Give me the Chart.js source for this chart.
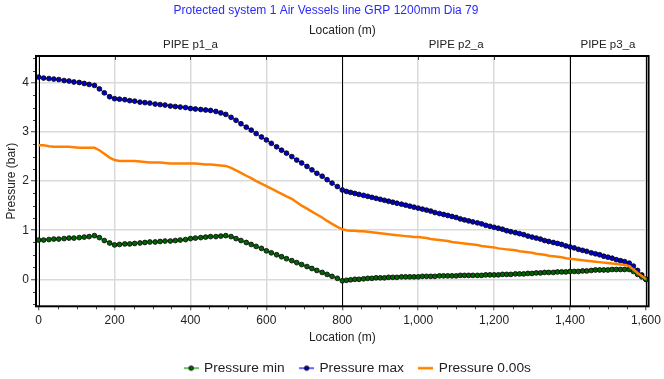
<!DOCTYPE html>
<html>
<head>
<meta charset="utf-8">
<script src="https://cdn.jsdelivr.net/npm/chart.js@4.4.1/dist/chart.umd.min.js"></script>
<style>
  html, body { margin: 0; padding: 0; background: #fff; }
</style>
</head>
<body>
<canvas id="pressureChart" width="664" height="379"></canvas>
<script>
// Sample locations (m) along the line: pipe p1_a, p2_a, p3_a
const locations = [
    0, 13, 27, 40, 53, 67, 80, 93, 107, 120,
    133, 147, 160, 173, 187, 200, 213, 227, 240, 253,
    267, 280, 293, 307, 320, 333, 347, 360, 373, 387,
    400, 413, 427, 440, 453, 467, 480, 493, 507, 520,
    533, 547, 560, 573, 587, 600, 613, 627, 640, 653,
    667, 680, 693, 707, 720, 733, 747, 760, 773, 787,
    800,
    811, 822, 833, 844, 856, 867, 878, 889, 900, 911,
    922, 933, 944, 956, 967, 978, 989, 1000, 1011, 1022,
    1033, 1044, 1056, 1067, 1078, 1089, 1100, 1111, 1122, 1133,
    1144, 1156, 1167, 1178, 1189, 1200, 1211, 1222, 1233, 1244,
    1256, 1267, 1278, 1289, 1300, 1311, 1322, 1333, 1344, 1356,
    1367, 1378, 1389, 1400,
    1411, 1422, 1433, 1444, 1456, 1467, 1478, 1489, 1500, 1511,
    1522, 1533, 1544, 1556, 1567, 1578, 1589, 1600
];

const pressureMin = [
    0.80, 0.80, 0.81, 0.82, 0.82, 0.83, 0.84, 0.84, 0.85, 0.86,
    0.87, 0.89, 0.85, 0.79, 0.74, 0.70, 0.71, 0.72, 0.72, 0.73,
    0.74, 0.75, 0.76, 0.76, 0.77, 0.78, 0.78, 0.79, 0.80, 0.81,
    0.83, 0.84, 0.85, 0.86, 0.87, 0.87, 0.88, 0.89, 0.87, 0.83,
    0.79, 0.75, 0.71, 0.67, 0.63, 0.58, 0.54, 0.50, 0.46, 0.42,
    0.38, 0.34, 0.30, 0.26, 0.22, 0.18, 0.14, 0.10, 0.06, 0.02,
    -0.03,
    -0.02, -0.01, 0.00, 0.00, 0.01, 0.02, 0.02, 0.03, 0.03, 0.03,
    0.04, 0.04, 0.04, 0.05, 0.05, 0.05, 0.05, 0.05, 0.06, 0.06,
    0.06, 0.06, 0.07, 0.07, 0.07, 0.07, 0.07, 0.08, 0.08, 0.08,
    0.08, 0.08, 0.08, 0.09, 0.09, 0.09, 0.09, 0.10, 0.10, 0.10,
    0.11, 0.11, 0.11, 0.12, 0.12, 0.13, 0.13, 0.14, 0.14, 0.14,
    0.15, 0.15, 0.15, 0.16,
    0.16, 0.16, 0.17, 0.17, 0.18, 0.19, 0.19, 0.19, 0.19, 0.20,
    0.20, 0.20, 0.20, 0.20, 0.16, 0.10, 0.05, 0.00
];

const pressureMax = [
    4.12, 4.10, 4.09, 4.08, 4.07, 4.05, 4.04, 4.02, 4.01, 3.99,
    3.97, 3.95, 3.88, 3.80, 3.72, 3.68, 3.67, 3.66, 3.64, 3.63,
    3.61, 3.60, 3.59, 3.57, 3.56, 3.55, 3.53, 3.52, 3.51, 3.50,
    3.48, 3.47, 3.46, 3.45, 3.44, 3.42, 3.39, 3.36, 3.30, 3.24,
    3.17, 3.10, 3.04, 2.97, 2.90, 2.84, 2.77, 2.70, 2.63, 2.57,
    2.50, 2.43, 2.37, 2.30, 2.23, 2.16, 2.10, 2.03, 1.96, 1.89,
    1.82,
    1.79, 1.77, 1.75, 1.73, 1.71, 1.69, 1.67, 1.65, 1.63, 1.61,
    1.59, 1.57, 1.55, 1.53, 1.51, 1.49, 1.47, 1.45, 1.43, 1.41,
    1.39, 1.36, 1.34, 1.32, 1.30, 1.28, 1.26, 1.23, 1.21, 1.19,
    1.17, 1.15, 1.13, 1.10, 1.08, 1.06, 1.04, 1.02, 0.99, 0.97,
    0.95, 0.93, 0.91, 0.88, 0.86, 0.84, 0.82, 0.79, 0.77, 0.75,
    0.73, 0.71, 0.68, 0.66,
    0.64, 0.61, 0.59, 0.57, 0.54, 0.52, 0.50, 0.47, 0.45, 0.43,
    0.40, 0.38, 0.36, 0.33, 0.27, 0.18, 0.09, 0.00
];

const pressure000 = [
    2.73, 2.73, 2.71, 2.70, 2.70, 2.70, 2.70, 2.69, 2.68, 2.68,
    2.68, 2.68, 2.63, 2.56, 2.48, 2.43, 2.41, 2.41, 2.41, 2.41,
    2.40, 2.39, 2.38, 2.38, 2.38, 2.37, 2.36, 2.36, 2.36, 2.36,
    2.36, 2.36, 2.35, 2.34, 2.34, 2.33, 2.32, 2.31, 2.27, 2.22,
    2.17, 2.11, 2.06, 2.00, 1.95, 1.90, 1.85, 1.79, 1.74, 1.69,
    1.64, 1.57, 1.50, 1.44, 1.38, 1.32, 1.26, 1.19, 1.13, 1.07,
    1.02,
    1.00, 0.99, 0.99, 0.98, 0.98, 0.97, 0.96, 0.95, 0.94, 0.93,
    0.92, 0.91, 0.90, 0.89, 0.88, 0.87, 0.86, 0.86, 0.85, 0.84,
    0.82, 0.81, 0.80, 0.79, 0.78, 0.76, 0.75, 0.74, 0.73, 0.72,
    0.71, 0.70, 0.68, 0.67, 0.66, 0.65, 0.63, 0.62, 0.61, 0.60,
    0.59, 0.57, 0.56, 0.55, 0.54, 0.52, 0.51, 0.50, 0.48, 0.47,
    0.46, 0.45, 0.43, 0.42,
    0.41, 0.40, 0.39, 0.38, 0.37, 0.36, 0.35, 0.34, 0.33, 0.32,
    0.31, 0.30, 0.29, 0.27, 0.20, 0.13, 0.07, 0.00
];

const seriesLabels = ["Pressure min", "Pressure max", "Pressure 0.00s"];
const xTickValues = [0, 200, 400, 600, 800, 1000, 1200, 1400, 1600];
const yTickValues = [0, 1, 2, 3, 4];
const pipeBounds = [0, 800, 1400, 1600];
const pipeNames = ["PIPE p1_a", "PIPE p2_a", "PIPE p3_a"];

const SANS = "'Liberation Sans', Arial, sans-serif";
const xMinorStep = 50;
const yMinorStep = 0.25;
const legendShift = 32;

const toPoints = values => locations.map((x, i) => ({ x: x, y: values[i] }));

// little line + dot sample for the legend
function legendIcon(lineColor, dotColor, lineWidth) {
    const c = document.createElement("canvas");
    c.width = 15;
    c.height = 8;
    const g = c.getContext("2d");
    g.strokeStyle = lineColor;
    g.lineWidth = lineWidth;
    g.beginPath();
    g.moveTo(0, 4);
    g.lineTo(15, 4);
    g.stroke();
    if (dotColor) {
        g.fillStyle = dotColor;
        g.strokeStyle = "#000";
        g.lineWidth = 0.8;
        g.beginPath();
        g.arc(7.5, 4, 2.3, 0, Math.PI * 2);
        g.fill();
        g.stroke();
    }
    return c;
}
const legendIcons = [
    legendIcon("#00a000", "#006400", 1.2),
    legendIcon("#0000ff", "#0000c0", 1.2),
    legendIcon("#ff8000", null, 2.5)
];

const pipeOverlay = {
    id: "pipeOverlay",
    afterLayout(chart) {
        chart.legend.left += legendShift;
        chart.legend.right += legendShift;
    },
    beforeDatasetsDraw(chart) {
        const { ctx, chartArea: a, scales: { x, y } } = chart;
        ctx.save();
        // minor ticks, and the short major ticks under the top border
        ctx.strokeStyle = "#444";
        ctx.lineWidth = 1;
        ctx.beginPath();
        for (let v = pipeBounds[0]; v <= pipeBounds[pipeBounds.length - 1]; v += xMinorStep) {
            const px = Math.round(x.getPixelForValue(v)) + 0.5;
            if (xTickValues.includes(v)) {
                ctx.moveTo(px, a.top);
                ctx.lineTo(px, a.top + 4);
                continue;
            }
            ctx.moveTo(px, a.bottom);
            ctx.lineTo(px, a.bottom + 3);
        }
        for (let v = y.min; v <= y.max; v += yMinorStep) {
            const r = Math.round(v / yMinorStep) * yMinorStep;
            if (r < y.min || yTickValues.includes(r)) continue;
            const py = Math.round(y.getPixelForValue(r)) + 0.5;
            ctx.moveTo(a.left - 3, py);
            ctx.lineTo(a.left, py);
        }
        ctx.stroke();
        // pipe boundaries
        ctx.strokeStyle = "#000";
        ctx.beginPath();
        pipeBounds.forEach(b => {
            const px = Math.round(x.getPixelForValue(b)) + 0.5;
            ctx.moveTo(px, a.top);
            ctx.lineTo(px, a.bottom);
        });
        ctx.stroke();
        ctx.restore();
    },
    afterDraw(chart) {
        const { ctx, chartArea: a } = chart;
        ctx.save();
        ctx.strokeStyle = "#000";
        ctx.lineWidth = 2;
        ctx.strokeRect(a.left, a.top, a.right - a.left, a.bottom - a.top);
        ctx.restore();
    }
};

const ctx = document.getElementById("pressureChart").getContext("2d");
new Chart(ctx, {
    type: "line",
    data: {
        datasets: [
            {
                label: seriesLabels[0],
                data: toPoints(pressureMin),
                borderColor: "#00a000",
                borderWidth: 1,
                pointRadius: 2.4,
                pointBackgroundColor: "#006400",
                pointBorderColor: "#000",
                pointBorderWidth: 0.8,
                order: 1
            },
            {
                label: seriesLabels[1],
                data: toPoints(pressureMax),
                borderColor: "#0000ff",
                borderWidth: 1,
                pointRadius: 2.4,
                pointBackgroundColor: "#0000c8",
                pointBorderColor: "#000",
                pointBorderWidth: 0.8,
                order: 1
            },
            {
                label: seriesLabels[2],
                data: toPoints(pressure000),
                borderColor: "#ff8000",
                borderWidth: 2.5,
                pointRadius: 0,
                order: 0
            }
        ]
    },
    options: {
        responsive: false,
        animation: false,
        devicePixelRatio: 1,
        layout: { padding: { right: 12, bottom: -6 } },
        plugins: {
            title: {
                display: true,
                text: "Protected system 1 Air Vessels line GRP 1200mm Dia 79",
                color: "#2a2aff",
                font: { family: SANS, size: 12, weight: "normal" },
                padding: { top: 3, bottom: 0 }
            },
            legend: {
                position: "bottom",
                labels: {
                    usePointStyle: true,
                    pointStyleWidth: 12,
                    padding: 16,
                    color: "#222",
                    font: { family: SANS, size: 13.7 },
                    sort: (a, b) => a.datasetIndex - b.datasetIndex,
                    generateLabels: chart => {
                        const items = Chart.defaults.plugins.legend.labels.generateLabels(chart);
                        items.forEach(it => { it.pointStyle = legendIcons[it.datasetIndex]; });
                        return items;
                    }
                }
            },
            tooltip: { enabled: false }
        },
        scales: {
            x: {
                type: "linear",
                min: -7,
                max: 1607,
                afterBuildTicks: s => { s.ticks = xTickValues.map(v => ({ value: v })); },
                afterFit: s => { s.height = 39; },
                ticks: {
                    callback: v => v.toLocaleString("en-US"),
                    color: "#222",
                    font: { family: SANS, size: 12 },
                    padding: 3,
                    maxRotation: 0,
                    autoSkip: false
                },
                grid: { color: "#dadada", lineWidth: 1.5, tickLength: 4, tickColor: "#444", tickWidth: 1 },
                border: { display: false },
                title: {
                    display: true,
                    text: "Location (m)",
                    color: "#222",
                    font: { family: SANS, size: 12 },
                    padding: { top: 2, bottom: 0 }
                }
            },
            xTop: {
                type: "linear",
                position: "top",
                min: -7,
                max: 1607,
                afterBuildTicks: s => {
                    s.ticks = pipeNames.map((n, i) => ({ value: (pipeBounds[i] + pipeBounds[i + 1]) / 2 }));
                },
                afterFit: s => { s.height = 38.6; },
                ticks: {
                    callback: (v, i) => pipeNames[i],
                    color: "#222",
                    font: { family: SANS, size: 11.5 },
                    padding: 4,
                    maxRotation: 0,
                    autoSkip: false
                },
                grid: { display: false, drawTicks: false },
                border: { display: false },
                title: {
                    display: true,
                    text: "Location (m)",
                    color: "#222",
                    font: { family: SANS, size: 12 },
                    padding: { top: 6.5, bottom: 0 }
                }
            },
            y: {
                min: -0.55,
                max: 4.55,
                afterBuildTicks: s => { s.ticks = yTickValues.map(v => ({ value: v })); },
                afterFit: s => { s.width = 36; },
                ticks: {
                    color: "#222",
                    font: { family: SANS, size: 12 },
                    padding: 2
                },
                grid: { color: "#dadada", lineWidth: 1.5, tickLength: 5, tickColor: "#444", tickWidth: 1 },
                border: { display: false },
                title: {
                    display: true,
                    text: "Pressure (bar)",
                    color: "#222",
                    font: { family: SANS, size: 12 },
                    padding: { top: 4, bottom: 0 }
                }
            }
        }
    },
    plugins: [pipeOverlay]
});
</script>
</body>
</html>
